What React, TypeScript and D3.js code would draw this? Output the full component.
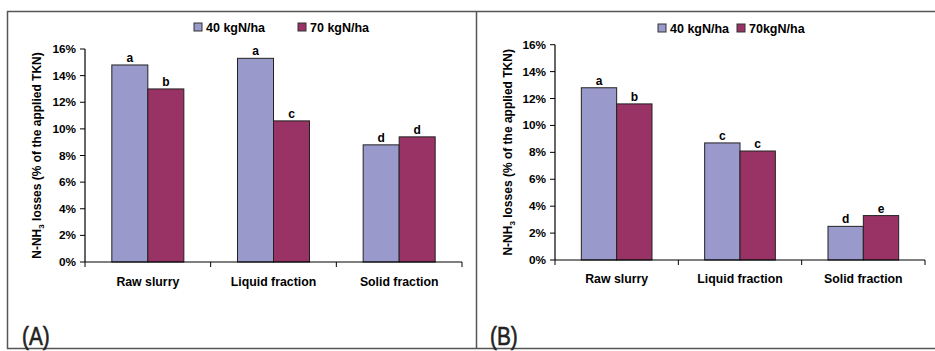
import React from "react";
import * as d3 from "d3";

// categories and series
const categories = ["Raw slurry", "Liquid fraction", "Solid fraction"];
const seriesA = ["40 kgN/ha", "70 kgN/ha"];
const seriesB = ["40 kgN/ha", "70kgN/ha"];

// values in % of applied TKN
const valuesA40 = [14.8, 15.3, 8.8];
const valuesA70 = [13.0, 10.6, 9.4];
const lettersA40 = ["a", "a", "d"];
const lettersA70 = ["b", "c", "d"];

const valuesB40 = [12.8, 8.7, 2.5];
const valuesB70 = [11.6, 8.1, 3.3];
const lettersB40 = ["a", "c", "d"];
const lettersB70 = ["b", "c", "e"];

const yTicks = [0, 2, 4, 6, 8, 10, 12, 14, 16];

const colors = ["#9999cc", "#993366"];
const font = "'Liberation Sans', Arial, sans-serif";

type PanelProps = {
  x0: number;
  x1: number;
  yTop: number;
  yBottom: number;
  series: string[];
  v40: number[];
  v70: number[];
  l40: string[];
  l70: string[];
  legendX: number[];
  legendY: number;
  catY: number;
  labelX: number;
  tag: string;
  tagX: number;
};

const Panel = (p: PanelProps) => {
  const x = d3.scaleBand<string>().domain(categories).range([p.x0, p.x1]).padding(0);
  const inner = d3
    .scaleBand<string>()
    .domain(p.series)
    .range([0, x.bandwidth()])
    .paddingInner(0)
    .paddingOuter(0.745);
  const y = d3.scaleLinear().domain([0, 16]).range([p.yBottom, p.yTop]);

  const rows = categories.map((c, i) => ({
    c,
    vals: [p.v40[i], p.v70[i]],
    lets: [p.l40[i], p.l70[i]],
  }));

  const bounds = [...categories.map((c) => x(c)!), p.x1];
  const fmt = d3.format(".0%");

  return (
    <g fontFamily={font} fontWeight="bold">
      {/* bars */}
      {rows.map((r) =>
        r.vals.map((v, j) => {
          const bx = x(r.c)! + inner(p.series[j])!;
          return (
            <g key={r.c + j}>
              <rect
                x={bx}
                y={y(v)}
                width={inner.bandwidth()}
                height={y(0) - y(v)}
                fill={colors[j]}
                stroke="#222"
                strokeWidth={1}
              />
              <text
                x={bx + inner.bandwidth() / 2}
                y={y(v) - 3}
                textAnchor="middle"
                fontSize={12}
                fill="#000"
              >
                {r.lets[j]}
              </text>
            </g>
          );
        })
      )}

      {/* y axis */}
      <line x1={p.x0} x2={p.x0} y1={y(16)} y2={y(0)} stroke="#000" strokeWidth={1.2} />
      {yTicks.map((t) => (
        <g key={t}>
          <line x1={p.x0 - 5} x2={p.x0} y1={y(t)} y2={y(t)} stroke="#000" strokeWidth={1} />
          <text x={p.x0 - 9} y={y(t) + 4} textAnchor="end" fontSize={11.8} fill="#000">
            {fmt(t / 100)}
          </text>
        </g>
      ))}

      {/* x axis */}
      <line x1={p.x0} x2={p.x1} y1={y(0)} y2={y(0)} stroke="#000" strokeWidth={1.2} />
      {bounds.map((b, i) => (
        <line key={i} x1={b} x2={b} y1={y(0)} y2={y(0) + 5} stroke="#000" strokeWidth={1} />
      ))}
      {categories.map((c) => (
        <text
          key={c}
          x={x(c)! + x.bandwidth() / 2}
          y={p.catY}
          textAnchor="middle"
          fontSize={12.3}
          fill="#000"
        >
          {c}
        </text>
      ))}

      {/* y label */}
      <text
        transform={`translate(${p.labelX},${(y(0) + y(16)) / 2}) rotate(-90)`}
        textAnchor="middle"
        fontSize={12}
        fill="#000"
      >
        N-NH
        <tspan fontSize={8} dy={3}>
          3
        </tspan>
        <tspan dy={-3}> losses (% of the applied TKN)</tspan>
      </text>

      {/* legend */}
      {p.series.map((s, j) => (
        <g key={s}>
          <rect
            x={p.legendX[j]}
            y={p.legendY - 4}
            width={8}
            height={8}
            fill={colors[j]}
            stroke="#333"
            strokeWidth={1}
          />
          <text x={p.legendX[j] + 12} y={p.legendY + 4.5} fontSize={12.5} fill="#000">
            {s}
          </text>
        </g>
      ))}

      {/* panel tag */}
      <text
        transform={`translate(${p.tagX},345) scale(0.8,1)`}
        fontWeight="normal"
        fontSize={26}
        fill="#222"
        stroke="#222"
        strokeWidth={0.6}
      >
        {p.tag}
      </text>
    </g>
  );
};

export default function App() {
  const W = 935;
  const H = 351;
  return (
    <svg
      width={W}
      height={H}
      style={{ position: "absolute", left: 0, top: 0, background: "#fff" }}
    >
      <rect width={W} height={H} fill="#fff" />
      {/* frame */}
      <g stroke="#555" strokeWidth={1.5} fill="none">
        <line x1={7} x2={935} y1={11.5} y2={11.5} />
        <line x1={7.5} x2={7.5} y1={11} y2={349} />
        <line x1={476.5} x2={476.5} y1={11} y2={348} />
        <line x1={7} x2={935} y1={348.5} y2={348.5} />
      </g>
      <Panel
        x0={85}
        x1={462}
        yTop={49}
        yBottom={262}
        series={seriesA}
        v40={valuesA40}
        v70={valuesA70}
        l40={lettersA40}
        l70={lettersA70}
        legendX={[194, 298]}
        legendY={27}
        catY={286}
        labelX={41}
        tag="(A)"
        tagX={22}
      />
      <Panel
        x0={555}
        x1={925}
        yTop={44.7}
        yBottom={260}
        series={seriesB}
        v40={valuesB40}
        v70={valuesB70}
        l40={lettersB40}
        l70={lettersB70}
        legendX={[658, 737]}
        legendY={28}
        catY={283}
        labelX={512}
        tag="(B)"
        tagX={490}
      />
    </svg>
  );
}
